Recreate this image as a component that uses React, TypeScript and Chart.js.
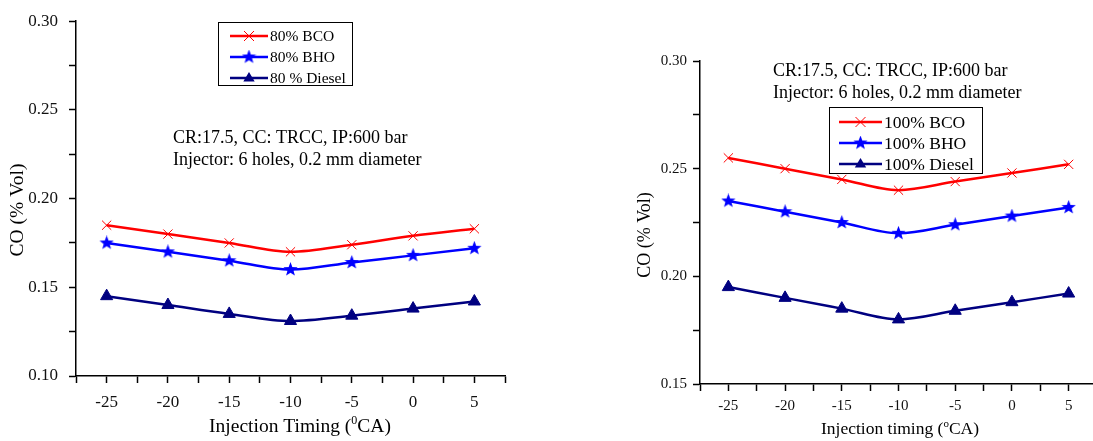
import React, { useEffect, useRef } from 'react';
import { Chart, registerables } from 'chart.js';

Chart.register(...registerables);

// ---------- data ----------
const timings = [-25, -20, -15, -10, -5, 0, 5];
const bco80 = [0.185, 0.18, 0.175, 0.17, 0.174, 0.179, 0.183];
const bho80 = [0.175, 0.17, 0.165, 0.16, 0.164, 0.168, 0.172];
const diesel80 = [0.145, 0.14, 0.135, 0.131, 0.134, 0.138, 0.142];
const bco100 = [0.255, 0.25, 0.245, 0.24, 0.244, 0.248, 0.252];
const bho100 = [0.235, 0.23, 0.225, 0.22, 0.224, 0.228, 0.232];
const diesel100 = [0.195, 0.19, 0.185, 0.18, 0.184, 0.188, 0.192];
const labels80 = ['80% BCO', '80% BHO', '80 % Diesel'];
const labels100 = ['100% BCO', '100% BHO', '100% Diesel'];
const annotationLines = ['CR:17.5, CC: TRCC, IP:600 bar', 'Injector: 6 holes, 0.2 mm diameter'];
const yTitleText = 'CO (% Vol)';
const xTitleLeft = ['Injection Timing (', '0', 'CA)'];
const xTitleRight = ['Injection timing (', 'o', 'CA)'];

const FONT = '"Liberation Serif", "Times New Roman", serif';
const RED = '#ff0000';
const BLUE = '#0000ff';
const NAVY = '#000080';
const COLORS = [RED, BLUE, NAVY];

function makeStar(size: number, color: string) {
  const c = document.createElement('canvas');
  c.width = size;
  c.height = size;
  const ctx = c.getContext('2d')!;
  const cx = size / 2, cy = size / 2, ro = size / 2, ri = ro * 0.42;
  ctx.beginPath();
  for (let i = 0; i < 10; i++) {
    const r = i % 2 === 0 ? ro : ri;
    const a = -Math.PI / 2 + (i * Math.PI) / 5;
    const x = cx + r * Math.cos(a), y = cy + r * Math.sin(a);
    if (i === 0) ctx.moveTo(x, y); else ctx.lineTo(x, y);
  }
  ctx.closePath();
  ctx.fillStyle = color;
  ctx.fill();
  return c;
}

function drawMarker(ctx: CanvasRenderingContext2D, kind: number, x: number, y: number, star: HTMLCanvasElement) {
  ctx.save();
  if (kind === 0) {
    const r = 5;
    ctx.strokeStyle = RED;
    ctx.lineWidth = 1;
    ctx.beginPath();
    ctx.moveTo(x - r, y - r); ctx.lineTo(x + r, y + r);
    ctx.moveTo(x - r, y + r); ctx.lineTo(x + r, y - r);
    ctx.stroke();
  } else if (kind === 1) {
    ctx.drawImage(star, x - star.width / 2, y - star.height / 2);
  } else {
    const r = 6;
    ctx.fillStyle = NAVY;
    ctx.beginPath();
    ctx.moveTo(x, y - r);
    ctx.lineTo(x + r * 0.95, y + r * 0.6);
    ctx.lineTo(x - r * 0.95, y + r * 0.6);
    ctx.closePath();
    ctx.fill();
  }
  ctx.restore();
}

type Cfg = {
  left: number; width: number; height: number;
  yAxisWidth: number; xAxisHeight: number; padTop: number; padRight: number;
  yMin: number; yMax: number; tickFont: number; xTickFont: number; yTickPad: number; xTickPad: number;
  series: number[][]; labels: string[];
  legend: { x: number; y: number; w: number; h: number; rows: number[]; l0: number; l1: number; tx: number; font: number };
  ann: { x: number; baselines: number[]; font: number };
  yTitle: { x: number; y: number; font: number };
  xTitle: { cx: number; y: number; font: number; parts: string[] };
};

function build(canvas: HTMLCanvasElement, cfg: Cfg) {
  const star = makeStar(15, BLUE);
  const off = cfg.left;
  const decor = {
    id: 'decor',
    afterDraw(chart: any) {
      const ctx: CanvasRenderingContext2D = chart.ctx;
      ctx.save();
      // annotation
      ctx.fillStyle = '#000';
      ctx.textAlign = 'left';
      ctx.textBaseline = 'alphabetic';
      ctx.font = `${cfg.ann.font}px ${FONT}`;
      annotationLines.forEach((t, i) => ctx.fillText(t, cfg.ann.x - off, cfg.ann.baselines[i]));
      // legend box
      const L = cfg.legend;
      ctx.strokeStyle = '#000';
      ctx.lineWidth = 1;
      ctx.strokeRect(L.x - off + 0.5, L.y + 0.5, L.w, L.h);
      ctx.font = `${L.font}px ${FONT}`;
      ctx.textBaseline = 'middle';
      cfg.labels.forEach((lab, i) => {
        const y = L.rows[i];
        ctx.strokeStyle = COLORS[i];
        ctx.lineWidth = 2.5;
        ctx.beginPath();
        ctx.moveTo(L.l0 - off, y);
        ctx.lineTo(L.l1 - off, y);
        ctx.stroke();
        drawMarker(ctx, i, (L.l0 + L.l1) / 2 - off, y, star);
        ctx.fillStyle = '#000';
        ctx.fillText(lab, L.tx - off, y + 1);
      });
      // y title
      ctx.save();
      ctx.translate(cfg.yTitle.x - off, cfg.yTitle.y);
      ctx.rotate(-Math.PI / 2);
      ctx.font = `${cfg.yTitle.font}px ${FONT}`;
      ctx.textAlign = 'center';
      ctx.textBaseline = 'middle';
      ctx.fillText(yTitleText, 0, 0);
      ctx.restore();
      // x title with superscript
      const X = cfg.xTitle;
      const big = `${X.font}px ${FONT}`;
      const small = `${Math.round(X.font * 0.6)}px ${FONT}`;
      ctx.textAlign = 'left';
      ctx.textBaseline = 'alphabetic';
      ctx.font = big;
      const w0 = ctx.measureText(X.parts[0]).width;
      const w2 = ctx.measureText(X.parts[2]).width;
      ctx.font = small;
      const w1 = ctx.measureText(X.parts[1]).width;
      let x = X.cx - off - (w0 + w1 + w2) / 2;
      ctx.font = big;
      ctx.fillText(X.parts[0], x, X.y);
      x += w0;
      ctx.font = small;
      ctx.fillText(X.parts[1], x, X.y - X.font * 0.4);
      x += w1;
      ctx.font = big;
      ctx.fillText(X.parts[2], x, X.y);
      ctx.restore();
    },
  };

  const styles = ['crossRot', star, 'triangle'];
  const datasets = cfg.series.map((arr, i) => ({
    label: cfg.labels[i],
    data: timings.map((t, j) => ({ x: t, y: arr[j] })),
    borderColor: COLORS[i],
    backgroundColor: COLORS[i],
    borderWidth: 2.5,
    pointStyle: styles[i] as any,
    pointRadius: i === 0 ? 6.5 : 7,
    pointBorderWidth: 1,
    pointBackgroundColor: COLORS[i],
    pointBorderColor: COLORS[i],
    cubicInterpolationMode: 'monotone' as const,
    tension: 0.4,
  }));

  return new Chart(canvas, {
    type: 'line',
    data: { datasets },
    options: {
      responsive: false,
      animation: false,
      events: [],
      layout: { padding: { left: 0, top: cfg.padTop, right: cfg.padRight, bottom: 0 } },
      plugins: { legend: { display: false }, tooltip: { enabled: false } },
      scales: {
        x: {
          type: 'linear',
          min: -27.5,
          max: 7.5,
          afterFit: (s: any) => { s.height = cfg.xAxisHeight; },
          border: { display: true, color: '#000', width: 1.5 },
          grid: { display: true, drawOnChartArea: false, drawTicks: true, tickLength: 7, tickColor: '#000', tickWidth: 1.5, color: '#000' },
          ticks: {
            stepSize: 2.5,
            autoSkip: false,
            maxRotation: 0,
            padding: cfg.xTickPad,
            color: '#111',
            font: { family: FONT, size: cfg.xTickFont },
            callback: (v: any) => {
              const n = Number(v);
              return Math.abs(Math.round(n * 100) % 500) === 0 ? String(Math.round(n)) : '';
            },
          },
        },
        y: {
          type: 'linear',
          min: cfg.yMin,
          max: cfg.yMax,
          afterFit: (s: any) => { s.width = cfg.yAxisWidth; },
          border: { display: true, color: '#000', width: 1.5 },
          grid: { display: true, drawOnChartArea: false, drawTicks: true, tickLength: 7, tickColor: '#000', tickWidth: 1.5, color: '#000' },
          ticks: {
            stepSize: 0.025,
            autoSkip: false,
            padding: cfg.yTickPad,
            color: '#111',
            font: { family: FONT, size: cfg.tickFont },
            callback: (v: any) => {
              const n = Math.round(Number(v) * 1000);
              return n % 50 === 0 ? (n / 1000).toFixed(2) : '';
            },
          },
        },
      },
    } as any,
    plugins: [decor],
  });
}

const leftCfg: Cfg = {
  left: 0, width: 545, height: 441,
  yAxisWidth: 76, xAxisHeight: 65, padTop: 18, padRight: 40,
  yMin: 0.1, yMax: 0.3, tickFont: 17, xTickFont: 17, yTickPad: 11, xTickPad: 9,
  series: [bco80, bho80, diesel80], labels: labels80,
  legend: { x: 218, y: 22, w: 134, h: 63, rows: [36, 57, 78], l0: 230, l1: 268, tx: 270, font: 15.5 },
  ann: { x: 173, baselines: [143, 165], font: 18 },
  yTitle: { x: 18, y: 210, font: 19.5 },
  xTitle: { cx: 300, y: 432, font: 19.5, parts: xTitleLeft },
};

const rightCfg: Cfg = {
  left: 545, width: 560, height: 441,
  yAxisWidth: 155, xAxisHeight: 57, padTop: 61, padRight: 3,
  yMin: 0.15, yMax: 0.3, tickFont: 15, xTickFont: 15, yTickPad: 6, xTickPad: 6,
  series: [bco100, bho100, diesel100], labels: labels100,
  legend: { x: 829, y: 107, w: 153, h: 66, rows: [122, 143, 164], l0: 839, l1: 882, tx: 884, font: 17.5 },
  ann: { x: 773, baselines: [76, 98], font: 18 },
  yTitle: { x: 645, y: 235, font: 18 },
  xTitle: { cx: 900, y: 434, font: 17.5, parts: xTitleRight },
};

function Panel({ cfg }: { cfg: Cfg }) {
  const ref = useRef<HTMLCanvasElement | null>(null);
  useEffect(() => {
    if (!ref.current) return;
    const ch = build(ref.current, cfg);
    return () => ch.destroy();
  }, []);
  return (
    <canvas
      ref={ref}
      width={cfg.width}
      height={cfg.height}
      style={{ position: 'absolute', left: cfg.left, top: 0, width: cfg.width, height: cfg.height }}
    />
  );
}

export default function App() {
  return (
    <div style={{ position: 'fixed', left: 0, top: 0, width: 1093, height: 441, overflow: 'hidden', background: '#fff' }}>
      <Panel cfg={leftCfg} />
      <Panel cfg={rightCfg} />
    </div>
  );
}
